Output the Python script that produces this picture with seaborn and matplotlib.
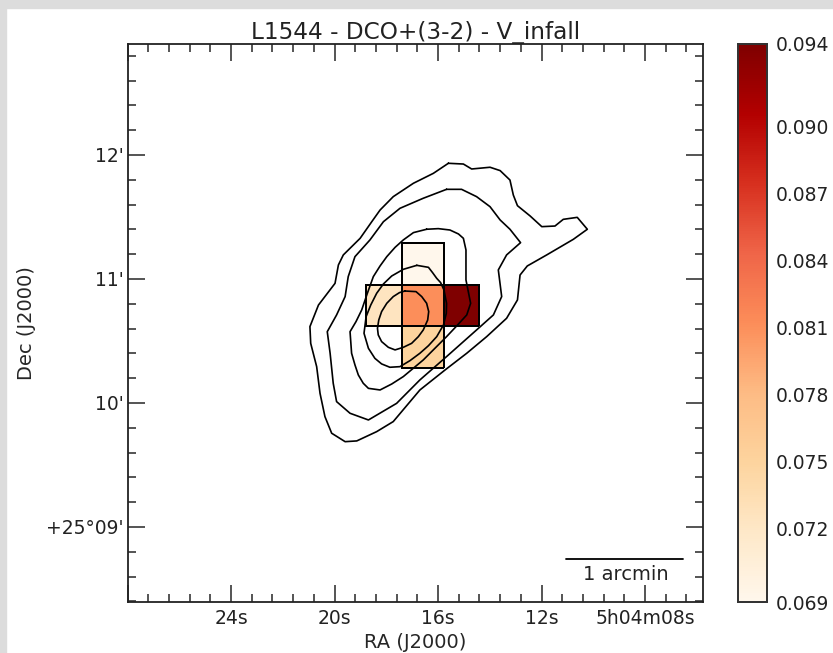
"""
L1544 DCO+(3-2) infall velocity map with contours
"""
import matplotlib
matplotlib.use("Agg")
import matplotlib.pyplot as plt
from matplotlib.patches import Rectangle
from matplotlib.ticker import FixedFormatter, FixedLocator, FuncFormatter, MultipleLocator
import numpy as np
import seaborn as sns

# cells: RA seconds past 5h04m, Dec arcmin past 25 deg
ra_edges = [14.40, 15.78, 17.39, 18.78]
dec_edges = [10.280, 10.621, 10.954, 11.293]
cell_ra = [16.6, 18.1, 16.6, 15.1, 16.6]
cell_dec = [11.12, 10.79, 10.79, 10.79, 10.45]
cell_v = [0.0687, 0.0725, 0.0812, 0.0937, 0.0750]

v_min = 0.0687
v_max = 0.0937
cbar_ticks = [0.0687, 0.072, 0.075, 0.078, 0.081, 0.084, 0.087, 0.090, 0.0937]
cbar_labels = ["0.069", "0.072", "0.075", "0.078", "0.081", "0.084", "0.087", "0.090", "0.094"]

c1_ra = [15.60, 15.02, 14.70, 13.99, 13.60, 13.22, 13.09, 12.93, 12.44, 11.99, 11.48, 11.16, 10.62, 10.23,
         10.77, 11.80, 12.55, 12.83, 12.93, 13.35, 14.12, 14.89, 15.73, 16.70, 17.73, 18.37, 19.14, 19.59,
         20.11, 20.37, 20.56, 20.69, 20.92, 20.95, 20.62, 19.98, 19.85, 19.66, 19.01, 18.56, 18.24, 17.73,
         16.95, 16.18, 15.60]
c1_dec = [11.933, 11.927, 11.887, 11.901, 11.874, 11.798, 11.677, 11.591, 11.508, 11.422, 11.427, 11.481,
          11.497, 11.401, 11.320, 11.194, 11.105, 11.032, 10.831, 10.683, 10.535, 10.401, 10.266, 10.105,
          9.850, 9.769, 9.694, 9.688, 9.756, 9.890, 10.078, 10.293, 10.481, 10.616, 10.790, 10.965, 11.113,
          11.194, 11.328, 11.462, 11.556, 11.664, 11.772, 11.852, 11.933]

c2_ra = [15.67, 15.09, 14.51, 13.99, 13.60, 13.22, 12.81, 13.35, 13.67, 13.54, 13.86, 14.51, 15.67, 16.70,
         17.60, 18.69, 19.40, 19.92, 20.05, 20.17, 20.28, 19.92, 19.59, 19.47, 19.21, 18.63, 18.11, 17.47,
         16.57, 15.67]
c2_dec = [11.723, 11.723, 11.664, 11.583, 11.476, 11.401, 11.293, 11.194, 11.073, 10.858, 10.710, 10.589,
          10.374, 10.186, 9.997, 9.863, 9.917, 10.011, 10.159, 10.401, 10.575, 10.710, 10.858, 11.019,
          11.180, 11.315, 11.462, 11.570, 11.651, 11.723]

c3_ra = [16.44, 15.99, 15.54, 15.21, 15.02, 14.92, 14.92, 14.92, 14.83, 14.74, 14.89, 15.28, 15.67, 16.12,
         16.57, 17.34, 17.79, 18.24, 18.69, 18.89, 19.08, 19.21, 19.34, 19.40, 19.17, 18.95, 18.73, 18.50,
         18.24, 17.98, 17.66, 17.34, 16.95, 16.44]
c3_dec = [11.401, 11.406, 11.395, 11.363, 11.328, 11.234, 11.113, 10.992, 10.898, 10.804, 10.710, 10.621,
          10.535, 10.441, 10.347, 10.213, 10.153, 10.105, 10.118, 10.159, 10.226, 10.307, 10.401, 10.575,
          10.656, 10.750, 10.885, 11.019, 11.105, 11.180, 11.255, 11.315, 11.374, 11.401]

c4_ra = [16.82, 16.37, 16.21, 16.05, 15.90, 15.77, 15.67, 15.68, 15.79, 16.05, 16.37, 16.70, 17.08, 17.47,
         17.86, 18.18, 18.44, 18.69, 18.86, 18.78, 18.60, 18.37, 18.11, 17.79, 17.34, 16.82]
c4_dec = [11.110, 11.094, 11.051, 11.005, 10.971, 10.911, 10.804, 10.723, 10.629, 10.535, 10.462, 10.401,
          10.342, 10.293, 10.288, 10.315, 10.360, 10.441, 10.562, 10.696, 10.790, 10.885, 10.960, 11.024,
          11.078, 11.110]

c5_ra = [17.28, 16.85, 16.63, 16.44, 16.36, 16.40, 16.57, 16.76, 17.02, 17.34, 17.66, 17.92, 18.18, 18.31,
         18.34, 18.29, 18.18, 17.98, 17.73, 17.49, 17.28]
c5_dec = [10.903, 10.898, 10.858, 10.804, 10.737, 10.669, 10.589, 10.535, 10.481, 10.449, 10.428, 10.449,
          10.495, 10.549, 10.602, 10.669, 10.737, 10.804, 10.858, 10.890, 10.903]

ra_ticks = {24: "24s", 20: "20s", 16: "16s", 12: "12s", 8: "5h04m08s"}
dec_ticks = {9: "+25\N{DEGREE SIGN}09'", 10: "10'", 11: "11'", 12: "12'"}

sns.set_style("white")
plt.rcParams["font.family"] = ["DejaVu Sans"]
plt.rcParams["text.color"] = "#222222"

W, H = 833, 653
fig = plt.figure(figsize=(W / 100, H / 100), dpi=100, facecolor="white")
ax = fig.add_axes([127.5 / W, 1 - 602 / H, (703 - 127.5) / W, (602 - 44) / H])
cax = fig.add_axes([738 / W, 1 - 602 / H, 28.5 / W, (602 - 44) / H])

# grey strips left by the screenshot
fig.patches.append(Rectangle((0, 1 - 8 / H), 1, 8 / H, transform=fig.transFigure, color="#dcdcdc", zorder=-5))
fig.patches.append(Rectangle((0, 0), 6 / W, 1, transform=fig.transFigure, color="#dcdcdc", zorder=-5))
for p in fig.patches:
    p.set_figure(fig)

sns.histplot(x=cell_ra, y=cell_dec, weights=cell_v, bins=[ra_edges, dec_edges], thresh=0, cmap="OrRd",
             vmin=v_min, vmax=v_max, ax=ax, cbar=True, cbar_ax=cax)

# outline only the cells that have a value
mesh = ax.collections[0]
filled = ~np.ma.getmaskarray(mesh.get_array()).ravel()
edge_rgba = np.zeros((filled.size, 4))
edge_rgba[filled] = [0, 0, 0, 1]
mesh.set_edgecolors(edge_rgba)
mesh.set_linewidth(1.2)

for c_ra, c_dec in [(c1_ra, c1_dec), (c2_ra, c2_dec), (c3_ra, c3_dec), (c4_ra, c4_dec), (c5_ra, c5_dec)]:
    sns.lineplot(x=c_ra, y=c_dec, sort=False, estimator=None, color="black", linewidth=1.2, ax=ax)

# scale bar
sns.lineplot(x=[11.05, 6.53], y=[8.742, 8.742], sort=False, estimator=None, color="black", linewidth=1.3, ax=ax)
ax.text(8.75, 8.615, "1 arcmin", ha="center", va="center", fontsize=14)

ax.set_xlim(28.0, 5.76)
ax.set_ylim(8.395, 12.895)
ax.xaxis.set_major_locator(MultipleLocator(4))
ax.xaxis.set_minor_locator(MultipleLocator(0.8))
ax.yaxis.set_major_locator(MultipleLocator(1))
ax.yaxis.set_minor_locator(MultipleLocator(0.2))
ax.xaxis.set_major_formatter(FuncFormatter(lambda v, pos: ra_ticks.get(int(round(v)), "")))
ax.yaxis.set_major_formatter(FuncFormatter(lambda v, pos: dec_ticks.get(int(round(v)), "")))
ax.tick_params(which="major", direction="in", length=12, width=1.1, top=True, right=True, bottom=True, left=True,
               labelsize=13.5, labelcolor="#222222", pad=3)
ax.tick_params(axis="x", which="major", pad=5)
ax.tick_params(which="minor", direction="in", length=6, width=1.1, top=True, right=True, bottom=True, left=True)
ax.set_xlabel("RA (J2000)", fontsize=14, labelpad=4)
ax.set_ylabel("Dec (J2000)", fontsize=14, labelpad=7)
ax.set_title("L1544 - DCO+(3-2) - V_infall", fontsize=16.7, pad=3)
for s in ax.spines.values():
    s.set_visible(True)
    s.set_color("#222222")
    s.set_linewidth(1.3)

cax.yaxis.set_major_locator(FixedLocator(cbar_ticks))
cax.yaxis.set_major_formatter(FixedFormatter(cbar_labels))
cax.yaxis.set_ticks_position("right")
cax.tick_params(which="major", direction="in", length=7, width=1.1, right=True, labelsize=13.5,
                labelcolor="#222222", pad=7)
cax.minorticks_off()
for s in cax.spines.values():
    s.set_visible(True)
    s.set_color("#333333")
    s.set_linewidth(1.3)

fig.savefig("out.png", dpi=100, facecolor="white")
